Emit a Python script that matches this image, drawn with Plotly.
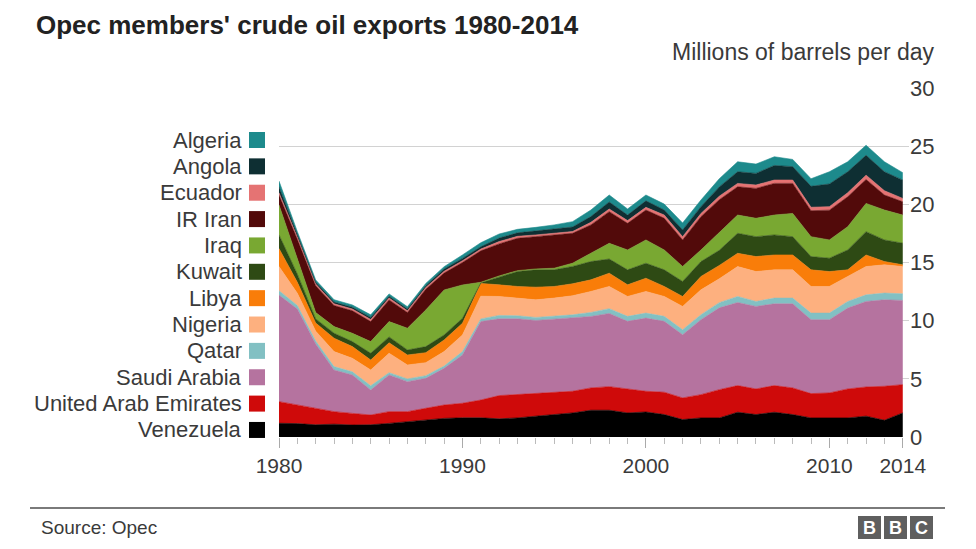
import plotly.graph_objects as go

years = list(range(1980, 2015))

venezuela = [1.18, 1.15, 1.05, 1.10, 1.03, 1.05, 1.17, 1.32, 1.46, 1.60, 1.65, 1.65, 1.56, 1.64, 1.79,
             1.93, 2.07, 2.30, 2.30, 2.07, 2.15, 1.93, 1.50, 1.64, 1.64, 2.13, 1.93, 2.13, 1.93, 1.64,
             1.64, 1.64, 1.79, 1.44, 2.07]
uae = [1.86, 1.60, 1.42, 1.08, 1.00, 0.84, 1.01, 0.86, 1.01, 1.15, 1.25, 1.53, 2.00, 2.00, 1.94,
       1.86, 1.86, 1.92, 2.03, 2.06, 1.78, 1.92, 1.86, 2.00, 2.43, 2.29, 2.20, 2.29, 2.29, 2.09,
       2.15, 2.49, 2.51, 2.92, 2.43]
saudi = [9.16, 8.25, 5.53, 3.58, 3.30, 2.15, 3.15, 2.58, 2.57, 3.15, 4.15, 6.74, 6.60, 6.52, 6.29,
         6.34, 6.29, 6.14, 6.29, 5.81, 6.29, 6.09, 5.43, 6.44, 7.03, 7.14, 7.09, 7.03, 7.23, 6.35,
         6.29, 6.95, 7.35, 7.43, 7.24]
qatar = [0.38, 0.30, 0.25, 0.29, 0.27, 0.36, 0.20, 0.23, 0.23, 0.20, 0.29, 0.23, 0.29, 0.26, 0.26,
         0.23, 0.28, 0.35, 0.41, 0.43, 0.43, 0.43, 0.43, 0.43, 0.45, 0.52, 0.43, 0.49, 0.49, 0.57,
         0.57, 0.57, 0.57, 0.58, 0.57]
nigeria = [2.07, 1.05, 0.85, 1.29, 1.16, 1.36, 1.67, 1.20, 1.12, 1.24, 1.43, 1.95, 1.63, 1.52, 1.51,
           1.58, 1.64, 1.80, 1.91, 1.71, 1.86, 1.71, 2.00, 2.14, 2.05, 2.57, 2.57, 2.43, 2.43, 2.29,
           2.29, 2.15, 2.43, 2.43, 2.34]
libya = [1.55, 0.95, 0.70, 1.15, 1.01, 0.86, 0.90, 0.86, 0.86, 1.00, 1.01, 1.10, 1.00, 1.00, 1.09,
         1.00, 1.03, 1.00, 1.14, 1.00, 1.14, 0.86, 0.86, 1.15, 1.15, 1.14, 1.29, 1.28, 1.28, 1.43,
         1.28, 0.57, 1.00, 0.28, 0.15]
kuwait = [1.17, 0.70, 0.35, 0.43, 0.43, 0.58, 0.50, 0.43, 0.52, 0.43, 0.42, 0.05, 0.66, 1.29, 1.49,
          1.43, 1.49, 1.57, 1.22, 1.29, 1.29, 1.43, 1.29, 1.28, 1.30, 1.72, 1.71, 1.72, 1.57, 1.14,
          1.15, 1.71, 2.00, 1.86, 1.86]
iraq = [2.58, 1.30, 0.55, 0.57, 0.71, 1.00, 1.32, 1.87, 3.15, 3.87, 2.87, 0.05, 0.11, 0.07, 0.08,
        0.14, 0.28, 0.72, 1.35, 1.71, 2.00, 1.71, 1.29, 1.00, 1.55, 1.57, 1.58, 1.71, 2.00, 1.71,
        1.57, 2.00, 2.43, 2.57, 2.42]
iran = [0.85, 1.70, 2.30, 1.81, 1.94, 1.72, 1.86, 1.35, 1.78, 1.45, 1.93, 2.70, 2.75, 2.78, 2.77,
        2.86, 2.57, 2.43, 2.72, 2.29, 2.57, 2.72, 2.28, 2.86, 2.80, 2.43, 2.57, 2.72, 2.58, 2.23,
        2.56, 2.57, 2.06, 1.29, 1.14]
ecuador = [0.20, 0.18, 0.15, 0.15, 0.15, 0.18, 0.17, 0.15, 0.15, 0.15, 0.15, 0.15, 0.20, 0.17, 0.15,
           0.14, 0.15, 0.22, 0.23, 0.23, 0.23, 0.28, 0.28, 0.28, 0.30, 0.29, 0.29, 0.29, 0.29, 0.30,
           0.30, 0.35, 0.37, 0.37, 0.29]
angola = [0.50, 0.22, 0.15, 0.15, 0.15, 0.18, 0.15, 0.15, 0.15, 0.20, 0.20, 0.20, 0.30, 0.30, 0.33,
          0.34, 0.39, 0.50, 0.60, 0.48, 0.56, 0.43, 0.58, 0.58, 0.80, 1.00, 1.00, 1.25, 1.15, 1.80,
          1.95, 1.80, 1.71, 1.63, 1.57]
algeria = [0.50, 0.25, 0.20, 0.20, 0.20, 0.22, 0.20, 0.20, 0.20, 0.20, 0.30, 0.35, 0.35, 0.30, 0.32,
           0.38, 0.46, 0.56, 0.60, 0.52, 0.50, 0.51, 0.60, 0.57, 0.70, 0.86, 0.80, 0.75, 0.62, 0.65,
           1.05, 0.86, 0.86, 0.86, 0.64]

# bottom-to-top stacking order
series_names = ["Venezuela", "United Arab Emirates", "Saudi Arabia", "Qatar", "Nigeria", "Libya",
                "Kuwait", "Iraq", "IR Iran", "Ecuador", "Angola", "Algeria"]
series_values = [venezuela, uae, saudi, qatar, nigeria, libya, kuwait, iraq, iran, ecuador, angola, algeria]
series_colors = ["#000000", "#cf0a0a", "#b5739f", "#82c0c3", "#fdb07f", "#f97d09",
                 "#2e4a14", "#79a832", "#520a0a", "#e57373", "#0e2f33", "#1d8a8c"]

x_tick_vals = [1980, 1990, 2000, 2010, 2014]
x_tick_text = ["1980", "1990", "2000", "2010", "2014"]
y_tick_vals = [0, 5, 10, 15, 20, 25, 30]

# the page body adds an 8px offset; work in window pixels and compensate
OFF = 8
W, H = 976 - OFF, 549 - OFF
PLOT_LEFT, PLOT_RIGHT, PLOT_TOP, PLOT_BOTTOM = 279, 909, 88, 437
L = PLOT_LEFT - OFF
R = W - (PLOT_RIGHT - OFF)
T = PLOT_TOP - OFF
B = H - (PLOT_BOTTOM - OFF)
PW, PH = W - L - R, H - T - B


def xp(px):
    return (px - OFF - L) / PW


def yp(py):
    return (H - B - (py - OFF)) / PH


FONT = "Liberation Sans, Arial, Helvetica, sans-serif"
TXT = "#3a3a3a"

fig = go.Figure()
for name, vals, col in zip(series_names, series_values, series_colors):
    fig.add_trace(go.Scatter(
        x=years, y=vals, name=name, stackgroup="one", mode="lines",
        line=dict(width=0.6, color=col), fillcolor=col, hoverinfo="skip", showlegend=False))

annotations = []
shapes = []

# title & unit
annotations.append(dict(text="<b>Opec members' crude oil exports 1980-2014</b>", xref="paper", yref="paper",
                        x=xp(34), y=yp(8), xanchor="left", yanchor="top", showarrow=False,
                        font=dict(family=FONT, size=26, color="#222222")))
annotations.append(dict(text="Millions of barrels per day", xref="paper", yref="paper",
                        x=xp(937), y=yp(52), xanchor="right", yanchor="middle", showarrow=False,
                        font=dict(family=FONT, size=23, color=TXT)))

# legend (top to bottom)
leg_top = 140
leg_step = 26.36
for i, (name, col) in enumerate(zip(series_names[::-1], series_colors[::-1])):
    cy = leg_top + i * leg_step
    annotations.append(dict(text=name, xref="paper", yref="paper", x=xp(244), y=yp(cy),
                            xanchor="right", yanchor="middle", showarrow=False,
                            font=dict(family=FONT, size=22, color=TXT)))
    shapes.append(dict(type="rect", xref="paper", yref="paper", x0=xp(249), x1=xp(265),
                       y0=yp(cy + 8), y1=yp(cy - 8), fillcolor=col, line=dict(width=0)))

# footer
shapes.append(dict(type="line", xref="paper", yref="paper", x0=xp(30), x1=xp(945),
                   y0=yp(508), y1=yp(508), line=dict(color="#7a7a7a", width=2)))
annotations.append(dict(text="Source: Opec", xref="paper", yref="paper", x=xp(39), y=yp(527),
                        xanchor="left", yanchor="middle", showarrow=False,
                        font=dict(family=FONT, size=19, color=TXT)))
for i, letter in enumerate(["B", "B", "C"]):
    x0 = 858 + i * 26
    shapes.append(dict(type="rect", xref="paper", yref="paper", x0=xp(x0), x1=xp(x0 + 23),
                       y0=yp(539), y1=yp(516), fillcolor="#5f5f5f", line=dict(width=0)))
    annotations.append(dict(text="<b>%s</b>" % letter, xref="paper", yref="paper",
                            x=xp(x0 + 11.5), y=yp(527.5), xanchor="center", yanchor="middle",
                            showarrow=False, font=dict(family=FONT, size=18, color="white")))

fig.update_layout(
    width=W, height=H, margin=dict(l=L, r=R, t=T, b=B, autoexpand=False),
    paper_bgcolor="white", plot_bgcolor="white",
    annotations=annotations, shapes=shapes, showlegend=False,
    xaxis=dict(range=[1980, 2014.34], tickvals=x_tick_vals, ticktext=x_tick_text,
               ticks="outside", ticklen=10, tickcolor="#aaaaaa", tickwidth=1,
               minor=dict(ticks="outside", ticklen=6, tick0=1980, dtick=1, tickcolor="#bbbbbb"),
               showgrid=False, zeroline=False, showline=False, fixedrange=True,
               tickfont=dict(family=FONT, size=21, color=TXT)),
    yaxis=dict(range=[0, 30], tickvals=y_tick_vals, side="right", showgrid=True,
               gridcolor="#d2d2d2", gridwidth=1, zeroline=False, showline=False, ticks="",
               fixedrange=True, tickfont=dict(family=FONT, size=22, color=TXT)),
)

fig.write_html("out.html")
